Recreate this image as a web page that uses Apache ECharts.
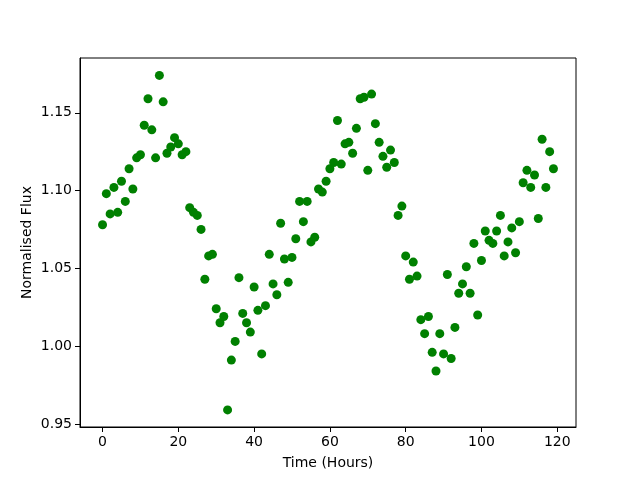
<!DOCTYPE html>
<html>
<head>
<meta charset="utf-8">
<script src="https://cdn.jsdelivr.net/npm/echarts@6/dist/echarts.min.js"></script>
<style>
  html, body { margin: 0; padding: 0; background: #fff; }
  #chart { width: 640px; height: 480px; }
</style>
</head>
<body>
<div id="chart"></div>
<script>
// hours 0..119, one reading per hour
var flux = [
    1.078, 1.098, 1.085, 1.102, 1.086, 1.106, 1.093, 1.114, 1.101, 1.121,
    1.123, 1.142, 1.159, 1.139, 1.121, 1.174, 1.157, 1.124, 1.128, 1.134,
    1.130, 1.123, 1.125, 1.089, 1.086, 1.084, 1.075, 1.043, 1.058, 1.059,
    1.024, 1.015, 1.019, 0.959, 0.991, 1.003, 1.044, 1.021, 1.015, 1.009,
    1.038, 1.023, 0.995, 1.026, 1.059, 1.040, 1.033, 1.079, 1.056, 1.041,
    1.057, 1.069, 1.093, 1.080, 1.093, 1.067, 1.070, 1.101, 1.099, 1.106,
    1.114, 1.118, 1.145, 1.117, 1.130, 1.131, 1.124, 1.140, 1.159, 1.160,
    1.113, 1.162, 1.143, 1.131, 1.122, 1.115, 1.126, 1.118, 1.084, 1.090,
    1.058, 1.043, 1.054, 1.045, 1.017, 1.008, 1.019, 0.996, 0.984, 1.008,
    0.995, 1.046, 0.992, 1.012, 1.034, 1.040, 1.051, 1.034, 1.066, 1.020,
    1.055, 1.074, 1.068, 1.066, 1.074, 1.084, 1.058, 1.067, 1.076, 1.060,
    1.080, 1.105, 1.113, 1.102, 1.110, 1.082, 1.133, 1.102, 1.125, 1.114
];
var xTicks = [0, 20, 40, 60, 80, 100, 120];
var yTicks = [0.95, 1.00, 1.05, 1.10, 1.15];

var points = [];
for (var i = 0; i < flux.length; i++) {
    points.push([i, flux[i]]);
}

var chart = echarts.init(document.getElementById('chart'));

var font = 'DejaVu Sans';

var option = {
    animation: false,
    backgroundColor: '#fff',
    grid: {
        left: 80,
        right: 64,
        top: 58,
        bottom: 53,
        show: true,
        borderColor: '#000',
        borderWidth: 1
    },
    xAxis: {
        type: 'value',
        min: -5.95,
        max: 124.95,
        name: 'Time (Hours)',
        nameLocation: 'middle',
        nameGap: 29,
        nameMoveOverlap: false,
        nameTextStyle: {color: '#000', fontFamily: font, fontSize: 14},
        axisLine: {show: true, onZero: false, lineStyle: {color: '#000', width: 1}},
        axisTick: {show: true, inside: false, length: 5, customValues: xTicks, lineStyle: {color: '#000'}},
        axisLabel: {
            color: '#000', fontFamily: font, fontSize: 14, margin: 8,
            customValues: xTicks
        },
        splitLine: {show: false}
    },
    yAxis: {
        type: 'value',
        min: 0.948,
        max: 1.1852,
        name: 'Normalised Flux',
        nameLocation: 'middle',
        nameGap: 46,
        nameMoveOverlap: false,
        nameTextStyle: {color: '#000', fontFamily: font, fontSize: 14},
        axisLine: {show: true, onZero: false, lineStyle: {color: '#000', width: 1}},
        axisTick: {show: true, inside: false, length: 5, customValues: yTicks, lineStyle: {color: '#000'}},
        axisLabel: {
            color: '#000', fontFamily: font, fontSize: 14, margin: 8,
            customValues: yTicks,
            formatter: function (v) { return v.toFixed(2); }
        },
        splitLine: {show: false}
    },
    series: [
        {
            type: 'scatter',
            data: points,
            symbol: 'circle',
            symbolSize: 9,
            itemStyle: {color: '#008000', opacity: 1}
        }
    ]
};

chart.setOption(option);
</script>
</body>
</html>
